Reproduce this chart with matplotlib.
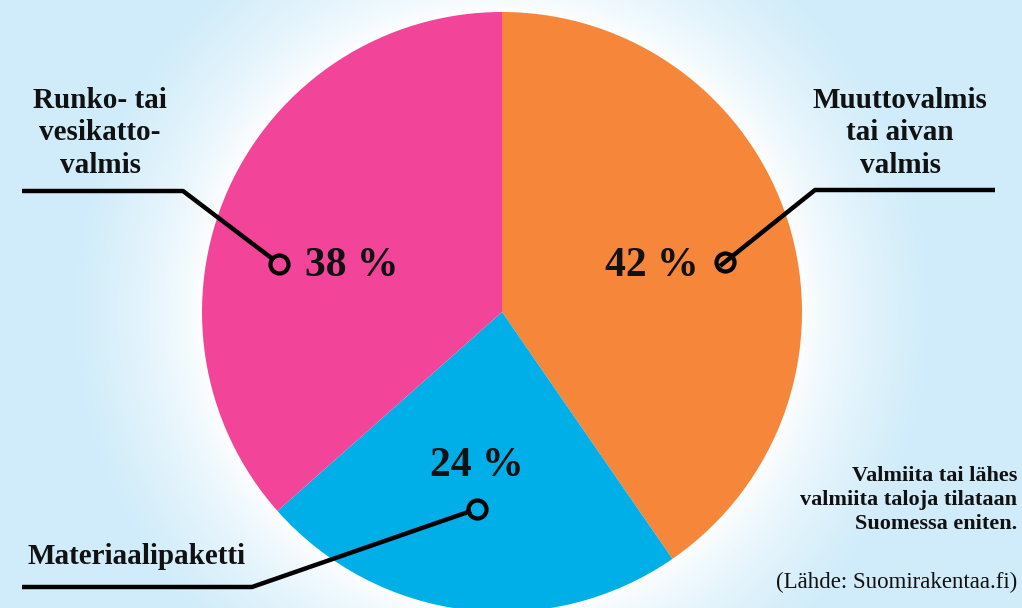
import numpy as np
import matplotlib
matplotlib.use("Agg")
import matplotlib.pyplot as plt

categories = ["Muuttovalmis\ntai aivan\nvalmis", "Materiaalipaketti", "Runko- tai\nvesikatto-\nvalmis"]
values = [42, 24, 38]
pct_labels = ["42 %", "24 %", "38 %"]
colors = ["#f5863a", "#00aee8", "#f24499"]
note = "Valmiita tai lähes\nvalmiita taloja tilataan\nSuomessa eniten."
source = "(Lähde: Suomirakentaa.fi)"

W, H = 1022, 608
fig = plt.figure(figsize=(W / 100, H / 100), dpi=100)
ax = fig.add_axes([0, 0, 1, 1])
ax.set_xlim(0, W)
ax.set_ylim(0, H)
ax.axis("off")

cx, cy, R = 502, H - 312, 300

# background with soft white glow around the pie
yy, xx = np.mgrid[0:H, 0:W]
d = np.hypot(xx + 0.5 - cx, (H - yy - 0.5) - cy)
t = np.clip((d - R) / 130.0, 0, 1) ** 0.7
bg = np.array([208, 236, 250]) / 255.0
img = (1 - t)[..., None] * np.ones(3) + t[..., None] * bg
ax.imshow(img, extent=[0, W, 0, H], origin="upper", zorder=0, aspect="auto")

ax.pie(values, colors=colors, startangle=90, counterclock=False,
       center=(cx, cy), radius=R, frame=True,
       wedgeprops=dict(linewidth=0, zorder=1))
ax.set_xlim(0, W)
ax.set_ylim(0, H)
ax.set_aspect("equal")
ax.axis("off")

serif = "Liberation Serif"
# percentage labels
pct_pos = [(652, 266), (477, 466), (352, 266)]
for (x, y), s in zip(pct_pos, pct_labels):
    ax.text(x, H - y, s, fontsize=30, fontweight="bold", family=serif,
            ha="center", va="center", color="#111111", zorder=5)

# leader lines
lw = 3.2
def leader(pts, circ):
    xs = [p[0] for p in pts]
    ys = [H - p[1] for p in pts]
    ax.plot(xs, ys, color="black", lw=lw, solid_capstyle="butt", zorder=4)
    ax.plot(circ[0], H - circ[1], "o", ms=13, mfc="none", mec="black", mew=3, zorder=6)

leader([(995, 190), (815, 190), (720, 266)], (725, 262))
leader([(22, 191), (183, 191), (274, 260)], (279, 264))
leader([(22, 587), (252, 587), (471, 511)], (477, 509))

# category labels
ax.text(900, H - 133, categories[0], fontsize=21, fontweight="bold", family=serif,
        ha="center", va="center", linespacing=1.25, color="#111111", zorder=5)
ax.text(100, H - 133, categories[2], fontsize=21, fontweight="bold", family=serif,
        ha="center", va="center", linespacing=1.25, color="#111111", zorder=5)
ax.text(28, H - 557, categories[1], fontsize=21, fontweight="bold", family=serif,
        ha="left", va="center", color="#111111", zorder=5)

ax.text(1017, H - 500, note, fontsize=16, fontweight="bold", family=serif,
        ha="right", va="center", linespacing=1.25, color="#111111", zorder=5)
ax.text(1017, H - 582, source, fontsize=16.5, family=serif,
        ha="right", va="center", color="#111111", zorder=5)

fig.savefig("out.png", dpi=100)
